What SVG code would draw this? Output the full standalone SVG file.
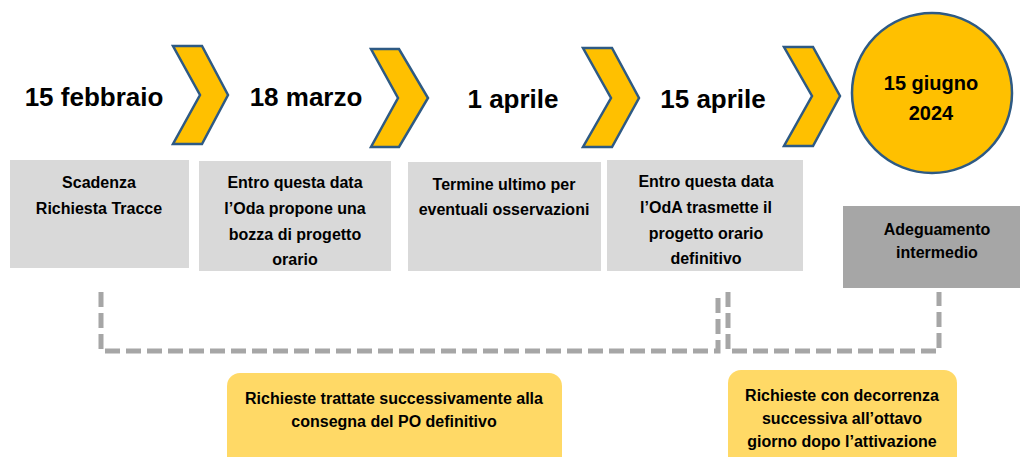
<svg xmlns="http://www.w3.org/2000/svg" width="1022" height="457" viewBox="0 0 1022 457">
<style>
.bg{fill:#fff}
.chev{fill:#FFC000;stroke:#2E5A84;stroke-width:2.5;stroke-linejoin:miter}
.date{font-family:"Liberation Sans",Arial,sans-serif;font-weight:bold;font-size:26px;fill:#000;text-anchor:middle}
.circ{font-family:"Liberation Sans",Arial,sans-serif;font-weight:bold;font-size:20px;fill:#000;text-anchor:middle}
.lbox{fill:#D9D9D9}
.dbox{fill:#A6A6A6}
.ybox{fill:#FFD966}
.t{font-family:"Liberation Sans",Arial,sans-serif;font-weight:bold;font-size:16px;fill:#000;text-anchor:middle}
.dash{fill:none;stroke:#A6A6A6;stroke-width:5;stroke-dasharray:15 6}
</style>
<rect class="bg" width="1022" height="457"/>
<g id="date1"><text class="date" x="94" y="106">15 febbraio</text></g>
<g id="chev1"><polygon class="chev" points="173,46 202,46 228,95 202,144 173,144 200,95"/></g>
<g id="date2"><text class="date" x="306" y="106">18 marzo</text></g>
<g id="chev2"><polygon class="chev" points="371,49 399,49 428,98 399,147 371,147 398,98"/></g>
<g id="date3"><text class="date" x="513" y="108">1 aprile</text></g>
<g id="chev3"><polygon class="chev" points="583,48 612,48 639,98 612,147 583,147 611,98"/></g>
<g id="date4"><text class="date" x="713" y="108">15 aprile</text></g>
<g id="chev4"><polygon class="chev" points="784,47 813,47 840,96 813,146 784,146 812,96"/></g>
<g id="circle"><circle cx="932" cy="93" r="80" fill="#FFC000" stroke="#2E5A84" stroke-width="2.5"/>
<text class="circ" x="931" y="90">15 giugno</text><text class="circ" x="931" y="120">2024</text></g>
<g id="box1"><rect class="lbox" x="10" y="160" width="179" height="108"/>
<text class="t" x="99" y="188">Scadenza</text><text class="t" x="99" y="214">Richiesta Tracce</text></g>
<g id="box2"><rect class="lbox" x="199" y="161" width="192" height="110"/>
<text class="t" x="295" y="188">Entro questa data</text><text class="t" x="295" y="214">l’Oda propone una</text><text class="t" x="295" y="240">bozza di progetto</text><text class="t" x="295" y="265">orario</text></g>
<g id="box3"><rect class="lbox" x="408" y="162" width="193" height="109"/>
<text class="t" x="504" y="190">Termine ultimo per</text><text class="t" x="504" y="215">eventuali osservazioni</text></g>
<g id="box4"><rect class="lbox" x="607" y="160" width="196" height="111"/>
<text class="t" x="706" y="187">Entro questa data</text><text class="t" x="706" y="213">l’OdA trasmette il</text><text class="t" x="706" y="239">progetto orario</text><text class="t" x="706" y="264">definitivo</text></g>
<g id="box5"><rect class="dbox" x="843" y="206" width="177" height="82"/>
<text class="t" x="937" y="235">Adeguamento</text><text class="t" x="937" y="258">intermedio</text></g>
<g id="connectors">
<path class="dash" d="M101,292 V351 H718 V292"/>
<path class="dash" d="M728,292 V351 H939 V292"/>
</g>
<g id="note1"><rect class="ybox" x="227" y="373" width="335" height="100" rx="13"/>
<text class="t" x="394" y="404">Richieste trattate successivamente alla</text><text class="t" x="394" y="427">consegna del PO definitivo</text></g>
<g id="note2"><rect class="ybox" x="728" y="370" width="229" height="100" rx="13"/>
<text class="t" x="842" y="401">Richieste con decorrenza</text><text class="t" x="842" y="424">successiva all’ottavo</text><text class="t" x="842" y="447">giorno dopo l’attivazione</text></g>
</svg>
